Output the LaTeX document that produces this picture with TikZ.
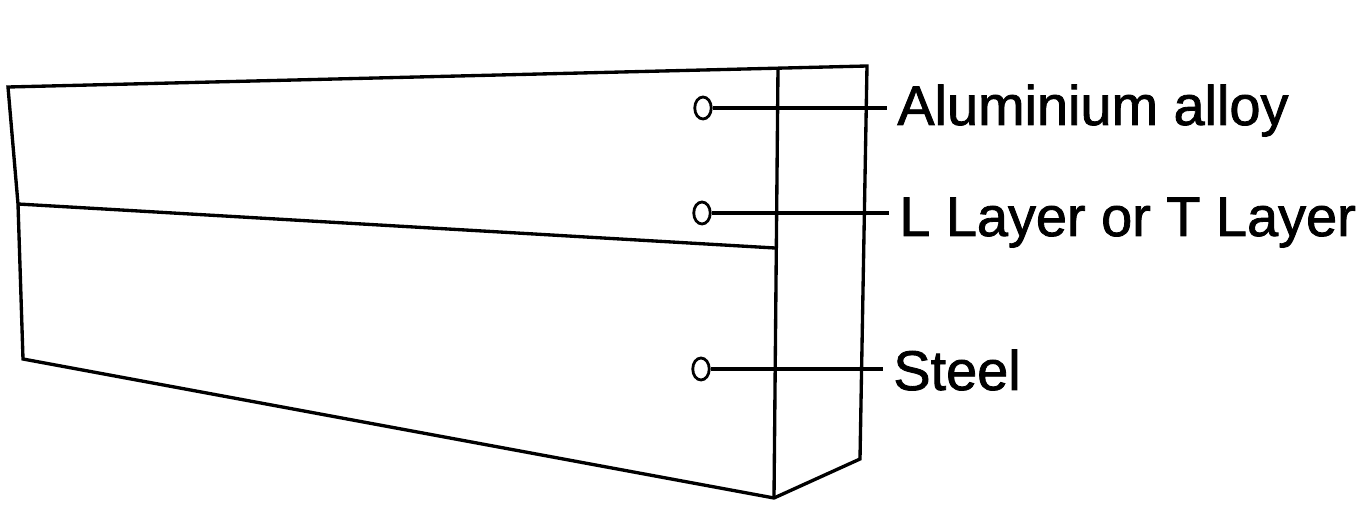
\documentclass[tikz,border=0pt]{standalone}
\usepackage{fontspec}
\setmainfont{Liberation Sans}
\newfontfamily\layerfont[FakeBold=1.5]{Liberation Sans}
\usetikzlibrary{shapes.geometric}

\begin{document}
\begin{tikzpicture}[x=0.02cm,y=-0.02cm,line join=miter]
	\tikzstyle{edge}=[draw=black,line width=1.9pt]
	\tikzstyle{leader}=[draw=black,line width=2.5pt]
	\tikzstyle{dot}=[draw=black,line width=1.6pt,shape=ellipse,inner sep=0pt,minimum width=0.33cm,minimum height=0.44cm]
	\tikzstyle{layer}=[anchor=base west,inner ysep=0pt,inner xsep=0.2cm,text=black,font=\layerfont\fontsize{31.8pt}{36pt}\selectfont]

	\useasboundingbox (0,0) rectangle (1367,530);

	\coordinate (top-left) at (8,87);
	\coordinate (mid-left) at (18,204);
	\coordinate (low-left) at (23,359);
	\coordinate (low-front) at (774,498);
	\coordinate (low-right) at (860,459);
	\coordinate (top-right) at (867,66);
	\coordinate (top-front) at (778,68);
	\coordinate (mid-front) at (775,248);

	\draw[edge] (top-left) -- (top-right) -- (low-right) -- (low-front) -- (low-left) -- (mid-left) -- cycle;
	\draw[edge] (top-front) -- (low-front);
	\draw[edge] (mid-left) -- (mid-front);

	\node[dot] (alloy-dot) at (703,108) {};
	\node[dot] (inter-dot) at (702,213) {};
	\node[dot] (steel-dot) at (701,369) {};

	\node[layer] (alloy) at (887,125) {Aluminium alloy};
	\node[layer] (inter) at (889,236) {L Layer or T Layer};
	\node[layer] (steel) at (883,390) {Steel};

	\draw[leader] (alloy-dot.east) -- (alloy-dot.east -| alloy.west);
	\draw[leader] (inter-dot.east) -- (inter-dot.east -| inter.west);
	\draw[leader] (steel-dot.east) -- (steel-dot.east -| steel.west);
\end{tikzpicture}
\end{document}
